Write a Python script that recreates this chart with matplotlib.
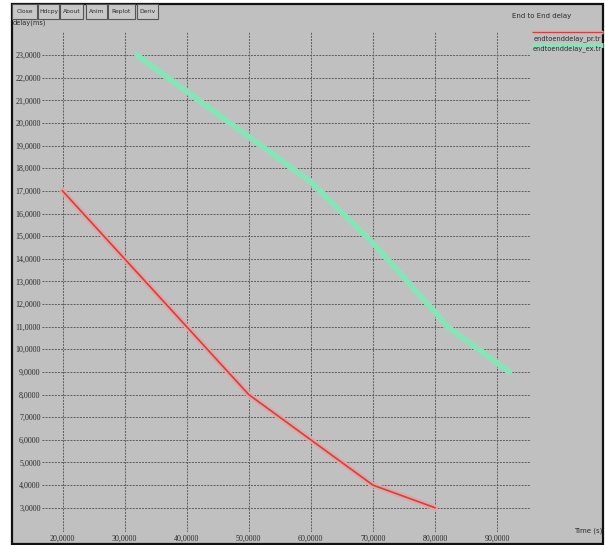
import matplotlib
matplotlib.use("Agg")
import matplotlib.pyplot as plt
from matplotlib.patches import Rectangle

# ---- data ----
pr_time = [20, 30, 40, 50, 60, 70, 80]
pr_delay = [17, 14, 11, 8, 6, 4, 3]
ex_time = [32, 40, 50, 60, 70, 80, 82, 92]
ex_delay = [23, 21.4, 19.4, 17.4, 14.7, 11.65, 11.0, 9.0]
x_ticks = [20, 30, 40, 50, 60, 70, 80, 90]
y_ticks = list(range(3, 24))
series_names = ["endtoenddelay_pr.tr", "endtoenddelay_ex.tr"]
buttons = ["Close", "Hdcpy", "About", "Anim", "Replot", "Deriv"]
title = "End to End delay"
x_label = "Time (s)"
y_label = "delay(ms)"

W, H = 605, 545
BG = "#c0c0c0"
RED = "#c84444"
RED_HALO = "#e4a4a4"
GREEN = "#88e4b8"
GRID = "#5c5c5c"
FONT = "DejaVu Sans"
TXT = "#2a2a2a"

fig = plt.figure(figsize=(W / 100, H / 100), dpi=100, facecolor="white")

# pixel-coordinate overlay for the window chrome
bg = fig.add_axes([0, 0, 1, 1])
bg.set_xlim(0, W)
bg.set_ylim(H, 0)
bg.axis("off")
bg.add_patch(Rectangle((11.5, 3.5), 591.5, 540, facecolor=BG, edgecolor="#111111", lw=1.6, zorder=0))

# buttons
bx = [12, 38, 60, 86, 108, 137]
bw = [25, 21, 23, 21, 27, 21]
for name, x0, w in zip(buttons, bx, bw):
    bg.add_patch(Rectangle((x0, 4), w, 15, facecolor="#c8c8c8", edgecolor="#555555", lw=0.8, zorder=2))
    bg.text(x0 + w / 2, 11.5, name, ha="center", va="center", fontsize=4.3, family=FONT, color=TXT, zorder=3)
bg.text(13, 22.5, y_label, ha="left", va="center", fontsize=4.8, family=FONT, color=TXT, zorder=1)

bg.text(542, 16, title, ha="center", va="center", fontsize=5.0, family=FONT, color=TXT)
bg.plot([532, 603], [32, 32], color=RED_HALO, lw=2.5, solid_capstyle="butt")
bg.plot([532, 603], [32, 32], color=RED, lw=0.8, solid_capstyle="butt")
bg.text(567, 39, series_names[0], ha="center", va="center", fontsize=4.8, family=FONT, color=TXT)
bg.plot([532, 603], [44.5, 44.5], color=GREEN, lw=3.5, solid_capstyle="butt")
bg.text(567, 49, series_names[1], ha="center", va="center", fontsize=4.8, family=FONT, color=TXT)
bg.text(602, 531, x_label, ha="right", va="center", fontsize=5.0, family=FONT, color=TXT)

# data axes positioned so that the data maps onto the reference pixels
px_left, px_right, px_top, px_bottom = 42, 531, 32, 532
x0p, xs = 62.5, 6.207   # pixel of x=20, px per unit
y0p, ys = 507.7, 22.63  # pixel of y=3, px per unit
xlim = (20 + (px_left - x0p) / xs, 20 + (px_right - x0p) / xs)
ylim = (3 - (px_bottom - y0p) / ys, 3 + (y0p - px_top) / ys)

ax = fig.add_axes([px_left / W, 1 - px_bottom / H, (px_right - px_left) / W, (px_bottom - px_top) / H])
ax.set_facecolor("none")
ax.set_xlim(*xlim)
ax.set_ylim(*ylim)
for s in ax.spines.values():
    s.set_visible(False)
ax.set_xticks(x_ticks)
ax.set_xticklabels([f"{v},0000" for v in x_ticks])
ax.set_yticks(y_ticks)
ax.set_yticklabels([f"{v},0000" for v in y_ticks])
ax.tick_params(length=0, labelsize=5.8, colors=TXT, pad=1.0)
ax.tick_params(axis="x", pad=2.0)
for lab in ax.get_xticklabels() + ax.get_yticklabels():
    lab.set_family("Liberation Serif")
ax.grid(True, color=GRID, lw=0.7, ls=(0, (2, 1.2)))
ax.set_axisbelow(True)

ax.plot(pr_time, pr_delay, color=RED_HALO, lw=4.0, solid_joinstyle="round", zorder=3)
ax.plot(pr_time, pr_delay, color=RED, lw=1.2, solid_joinstyle="round", zorder=4)
ax.plot(ex_time, ex_delay, color=GREEN, lw=4.3, solid_joinstyle="round", solid_capstyle="round", zorder=3)

fig.savefig("out.png", dpi=100, facecolor="white")
